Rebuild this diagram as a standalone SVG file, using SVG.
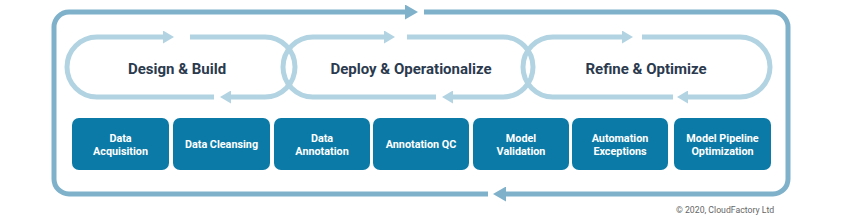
<svg xmlns="http://www.w3.org/2000/svg" width="844" height="217" viewBox="0 0 844 217">
<style>
.outer{fill:none;stroke:#7fb1cb;stroke-width:5}
.loop{fill:none;stroke:#b2d3e2;stroke-width:5}
.box{fill:#0b7aa7}
.bt{font-family:Roboto,"Liberation Sans",sans-serif;font-weight:bold;font-size:10.8px;fill:#ffffff;text-anchor:middle}
.lt{font-family:Roboto,"Liberation Sans",sans-serif;font-weight:bold;font-size:15px;fill:#2b3a4e;text-anchor:middle}
.cp{font-family:Roboto,"Liberation Sans",sans-serif;font-size:8.7px;fill:#666666}
</style>
<defs>
<marker id="ao" viewBox="0 0 13 15" refX="2" refY="7.5" markerWidth="13" markerHeight="15" markerUnits="userSpaceOnUse" orient="auto"><path d="M0,0 L13,7.5 L0,15 z" fill="#7fb1cb"/></marker>
<marker id="ai" viewBox="0 0 11 13" refX="2" refY="6.5" markerWidth="11" markerHeight="13" markerUnits="userSpaceOnUse" orient="auto"><path d="M0,0 L11,6.5 L0,13 z" fill="#b2d3e2"/></marker>
</defs>
<rect width="844" height="217" fill="#ffffff"/>
<g id="connectors">
<path class="outer" d="M424,12 H773 A15,15 0 0 1 788,27 V179 A15,15 0 0 1 773,194 H504" marker-end="url(#ao)"/>
<path class="outer" d="M488,194 H69 A15,15 0 0 1 54,179 V27 A15,15 0 0 1 69,12 H407" marker-end="url(#ao)"/>
<path class="loop" d="M190,37 H265 A30,30 0 0 1 265,97 H229" marker-end="url(#ai)"/>
<path class="loop" d="M214,97 H97 A30,30 0 0 1 97,37 H165" marker-end="url(#ai)"/>
<path class="loop" d="M407,37 H503 A30,30 0 0 1 503,97 H451" marker-end="url(#ai)"/>
<path class="loop" d="M436,97 H313 A30,30 0 0 1 313,37 H386" marker-end="url(#ai)"/>
<path class="loop" d="M642,37 H740 A30,30 0 0 1 740,97 H686" marker-end="url(#ai)"/>
<path class="loop" d="M673,97 H553 A30,30 0 0 1 553,37 H624" marker-end="url(#ai)"/>
</g>
<g id="phase-design"><text class="lt" x="177" y="74">Design &amp; Build</text></g>
<g id="phase-deploy"><text class="lt" x="411" y="74">Deploy &amp; Operationalize</text></g>
<g id="phase-refine"><text class="lt" x="646" y="74">Refine &amp; Optimize</text></g>
<g id="box-acquisition"><rect class="box" x="72" y="118" width="97" height="52" rx="7"/><text class="bt" x="120.5" y="142">Data</text><text class="bt" x="120.5" y="155">Acquisition</text></g>
<g id="box-cleansing"><rect class="box" x="173" y="118" width="97" height="52" rx="7"/><text class="bt" x="221.5" y="148">Data Cleansing</text></g>
<g id="box-annotation"><rect class="box" x="274" y="118" width="96" height="52" rx="7"/><text class="bt" x="322" y="142">Data</text><text class="bt" x="322" y="155">Annotation</text></g>
<g id="box-qc"><rect class="box" x="373" y="118" width="96" height="52" rx="7"/><text class="bt" x="421" y="148">Annotation QC</text></g>
<g id="box-validation"><rect class="box" x="473" y="118" width="96" height="52" rx="7"/><text class="bt" x="521" y="142">Model</text><text class="bt" x="521" y="155">Validation</text></g>
<g id="box-exceptions"><rect class="box" x="572" y="118" width="96" height="52" rx="7"/><text class="bt" x="620" y="142">Automation</text><text class="bt" x="620" y="155">Exceptions</text></g>
<g id="box-pipeline"><rect class="box" x="674" y="118" width="97" height="52" rx="7"/><text class="bt" x="722.5" y="142">Model Pipeline</text><text class="bt" x="722.5" y="155">Optimization</text></g>
<text class="cp" x="676" y="213">© 2020, CloudFactory Ltd</text>
</svg>
